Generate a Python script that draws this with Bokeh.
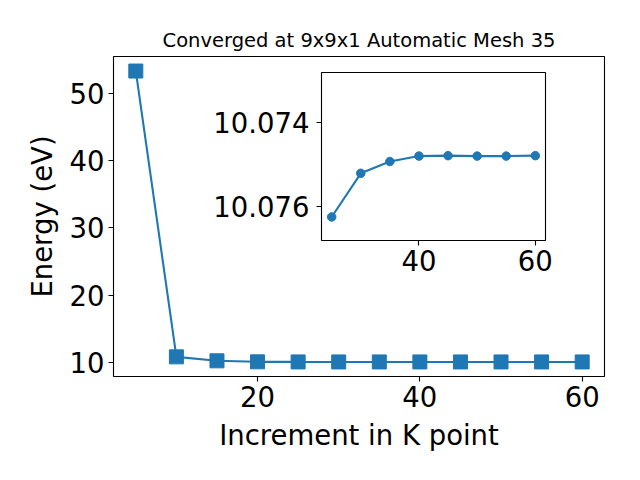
from bokeh.plotting import figure
from bokeh.layouts import column
from bokeh.models import Range1d, SingleIntervalTicker, NumeralTickFormatter
from bokeh.embed import file_html
from bokeh.resources import INLINE

# ---- data ----
kpoints = [5, 10, 15, 20, 25, 30, 35, 40, 45, 50, 55, 60]
energy = [53.3, 10.83, 10.24, 10.09, 10.07624, 10.07520, 10.07492, 10.07479,
          10.07478, 10.07479, 10.07479, 10.07478]
inset_k = kpoints[4:]
inset_e = energy[4:]

title_text = "Converged at 9x9x1 Automatic Mesh 35"
xlabel = "Increment in K point"
ylabel = "Energy (eV)"

BLUE = "#1f77b4"
FONT = "DejaVu Sans"
FS = "27.5px"


def style(fig):
    fig.grid.visible = False
    fig.outline_line_color = "black"
    fig.outline_line_width = 1.1
    fig.outline_line_alpha = 1
    for ax in fig.axis:
        ax.axis_line_color = None
        ax.major_tick_line_color = "black"
        ax.major_tick_line_width = 1.1
        ax.major_tick_out = 5
        ax.major_tick_in = 0
        ax.minor_tick_line_color = None
        ax.major_label_text_font = FONT
        ax.major_label_text_font_size = FS
        ax.major_label_text_color = "black"
        ax.major_label_standoff = 4
        ax.axis_label_text_font = FONT
        ax.axis_label_text_font_size = FS
        ax.axis_label_text_font_style = "normal"
        ax.axis_label_text_color = "black"
        ax.axis_label_standoff = 9


# ---- main figure ----
p = figure(width=624, height=464, output_backend="svg", toolbar_location=None,
           x_range=Range1d(2.25, 62.75), y_range=Range1d(7.91, 55.46),
           min_border_left=113, min_border_right=20, min_border_top=56,
           min_border_bottom=88, title=title_text)
p.title.text_font = FONT
p.title.text_font_size = "19.5px"
p.title.text_font_style = "normal"
p.title.text_color = "black"
p.title.align = "center"
p.xaxis.axis_label = xlabel
p.yaxis.axis_label = ylabel
p.xaxis.ticker = SingleIntervalTicker(interval=20)
p.yaxis.ticker = SingleIntervalTicker(interval=10)
style(p)
p.line(kpoints, energy, line_color=BLUE, line_width=2.1)
p.scatter(kpoints, energy, marker="square", size=14, fill_color=BLUE,
          line_color=BLUE)

# ---- inset figure ----
ins = figure(width=357, height=226, output_backend="svg", toolbar_location=None,
             x_range=Range1d(23.25, 61.75), y_range=Range1d(10.0768, 10.0728),
             min_border_left=113, min_border_right=20, min_border_top=8,
             min_border_bottom=50, border_fill_color=None,
             background_fill_color="white")
ins.xaxis.ticker = SingleIntervalTicker(interval=20)
ins.yaxis.ticker = SingleIntervalTicker(interval=0.002)
ins.yaxis.formatter = NumeralTickFormatter(format="0.000")
style(ins)
ins.yaxis.major_label_standoff = 7
ins.line(inset_k, inset_e, line_color=BLUE, line_width=2.1)
ins.scatter(inset_k, inset_e, marker="circle", size=8.5, fill_color=BLUE,
            line_color=BLUE)
ins.margin = (64 - 464, 0, 0, 208)

layout = column(p, ins, spacing=0)

open("out.html", "w").write(file_html(layout, INLINE))
